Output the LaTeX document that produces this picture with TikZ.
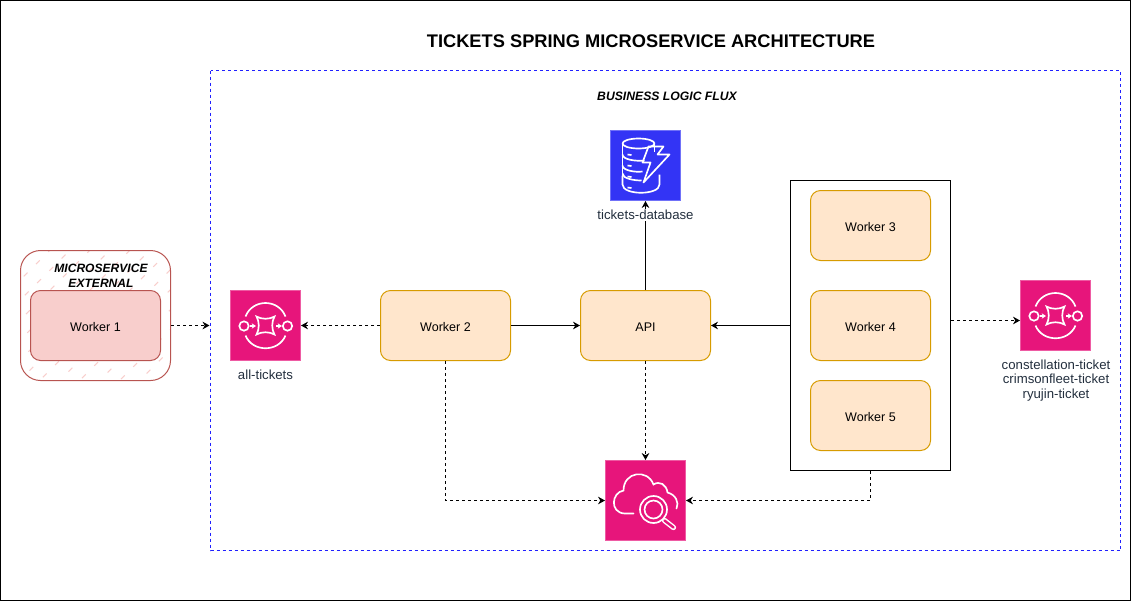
\documentclass[tikz,border=0pt]{standalone}
\usepackage{fontspec}
\setmainfont{Liberation Sans}
\usetikzlibrary{arrows.meta}
\definecolor{awsPink}{HTML}{E7157B}
\definecolor{awsBlue}{HTML}{3334F5}
\definecolor{frameBlue}{HTML}{2020FF}
\definecolor{redLine}{HTML}{B85450}
\definecolor{redFill}{HTML}{F8CECC}
\definecolor{orangeLine}{HTML}{D79B00}
\definecolor{orangeFill}{HTML}{FFE6CC}
\definecolor{labelGrey}{HTML}{232F3E}
\tikzset{
	worker/.style = {draw = orangeLine, fill = orangeFill, rounded corners = 7.5pt, inner sep = 0, font = \fontsize{9.4}{11}\selectfont, text height = 9pt, text depth = 0pt, minimum width = 97.5pt, minimum height = 52.5pt},
	icon/.style = {draw = awsPink!70!white, fill = awsPink, inner sep = 0, minimum size = 52.5pt},
	iconlabel/.style = {text = labelGrey, font = \fontsize{9.9}{10.8}\selectfont, align = center, inner sep = 1pt},
	flow/.style = {->, dash pattern = on 2.25pt off 2.25pt},
	sqs/.pic = {
		\draw [white, line width = 1.25pt]
			(-20, -9) .. controls (-13, -27) and (13, -27) .. (20, -9)
			(-20, 10) .. controls (-13, 27) and (13, 27) .. (20, 10)
			(-21.5, 0.5) circle (4.7) (22, 0.5) circle (4.7)
			(-9, -9) .. controls (-4, -6) and (4, -6) .. (9, -9) .. controls (6, -4) and (6, 4) .. (9, 9) .. controls (4, 6) and (-4, 6) .. (-9, 9) .. controls (-6, 4) and (-6, -4) .. cycle;
		\foreach \Q in {-15.5, 10.5}
			\draw [white, line width = 1.25pt, -{Stealth[length = 3.2pt, width = 4pt]}] (\Q, 0.5) -- ++ (6, 0);
	}
}
\begin{document}
\begin{tikzpicture}[> = {Stealth[length = 5.25pt, width = 5.75pt]}, x = 0.75pt, y = -0.75pt, line width = 0.75pt]

	% Page
	
	\useasboundingbox (0, 0) rectangle (1131, 601);
	\draw (0.5, 0.5) rectangle (1130.5, 600.5);
	
	% Title and frame
	
	\node (title) at (651, 41) {\fontsize{13.7}{16}\selectfont\bfseries TICKETS SPRING MICROSERVICE ARCHITECTURE};
	\draw [frameBlue, dash pattern = on 2.25pt off 2.25pt] (210.5, 70.5) rectangle (1120.5, 550.5);
	\node (flux) at (667, 96) {\fontsize{9.15}{11}\selectfont\bfseries\itshape BUSINESS LOGIC FLUX};
	
	% External microservice
	
	\begin{scope}
		\clip [rounded corners = 15pt] (20.5, 250.5) rectangle (170.5, 380.5);
		\foreach \Q in {-120, -100, ..., 160}
			\draw [redFill, line width = 0.8pt, dash pattern = on 4pt off 9pt, dash phase = {\Q * 0.35pt + 100pt}] (\Q, 380) -- ++ (130, -130);
	\end{scope}
	\node (external) [draw = redLine, rounded corners = 15pt, minimum width = 112.5pt, minimum height = 97.5pt, inner sep = 0] at (95.5, 315.5) {};
	\node (extlabel) [align = center, font = \fontsize{9.05}{11.2}\selectfont\bfseries\itshape] at (101, 276) {MICROSERVICE\\EXTERNAL};
	\node (worker1) [worker, draw = redLine, fill = redFill] at (95.5, 325.5) {Worker 1};
	
	% Queues, database and search
	
	\node (allTickets) [icon] at (265.5, 325.5) {};
	\pic at (allTickets) {sqs};
	\node (allLabel) [iconlabel] at (265.5, 375) {all-tickets};
	
	\node (ticketQueues) [icon] at (1055.5, 315.5) {};
	\pic at (ticketQueues) {sqs};
	\node (queueLabel) [iconlabel] at (1056, 380.5) {constellation-ticket\\crimsonfleet-ticket\\ryujin-ticket};
	
	\node (database) [icon, draw = awsBlue!70!white, fill = awsBlue] at (645.5, 165.5) {};
	\begin{scope}[shift = {(645.5, 165.5)}, white, line width = 1.25pt, line join = round]
		\draw (-7, -22) ellipse (16 and 5);
		\draw (-23, -22) -- (-23, 10);
		\draw (9, -22) -- (9, -14);
		\draw (-23, -11) .. controls (-23, -6) and (-10, -4) .. (-1, -5);
		\draw (-23, 0) .. controls (-23, 5) and (-10, 7) .. (-3, 6);
		\draw (-23, 8) .. controls (-23, 13) and (-12, 15) .. (-4, 15);
		\draw (-23, 10) -- (-23, 19) .. controls (-23, 30) and (14, 30) .. (14, 19) -- (14, 9);
		\draw (3, -19) -- (18, -19) -- (12, -11) -- (24, -11) -- (-2, 17) -- (5, -3) -- (-3, -3) -- cycle;
		\foreach \Q in {-10, 1, 12, 23}
			\draw (-18, \Q - 1) -- ++ (4, 0.5);
	\end{scope}
	
	\node (search) [icon, minimum size = 60pt] at (645.5, 500.5) {};
	\begin{scope}[shift = {(645.5, 500.5)}, white, line width = 1.25pt, line cap = round]
		\draw (-12, 13) -- (-21, 13) .. controls (-36, 12) and (-34, -8) .. (-22, -10) .. controls (-22, -29) and (2, -32) .. (8, -16) .. controls (14, -20) and (21, -16) .. (22, -8) .. controls (30, -6) and (34, 2) .. (31, 8);
		\draw (8, 9) circle (13.5) (8, 9) circle (9);
		\draw [line width = 4pt] (19, 20) -- (28, 27);
		\draw [awsPink, line width = 1.8pt] (19, 20) -- (28, 27);
	\end{scope}
	
	% Workers
	
	\node (worker2) [worker] at (445.5, 325.5) {Worker 2};
	\node (api) [worker] at (645.5, 325.5) {API};
	\node (workerBox) [draw, inner sep = 0, minimum width = 120pt, minimum height = 217.5pt] at (870.5, 325.5) {};
	\node (worker3) [worker, minimum width = 90pt] at (870.5, 225.5) {Worker 3};
	\node (worker4) [worker, minimum width = 90pt] at (870.5, 325.5) {Worker 4};
	\node (worker5) [worker, minimum width = 90pt] at (870.5, 415.5) {Worker 5};
	
	% Connectors
	
	\coordinate (frameEdge) at (209.5, 325.5);
	\draw [flow] (external.east |- worker1) -- (frameEdge);
	\draw [flow] (worker2) -- (allTickets);
	\draw [->] (worker2) -- (api);
	\draw [->] (workerBox) -- (api);
	\draw [flow] ([yshift = 3.75pt] workerBox.east) -- ([yshift = -3.75pt] ticketQueues.west);
	\draw [flow] (api) -- (search);
	\draw [flow] (worker2.south) |- (search.west);
	\draw [flow] (workerBox.south) |- (search.east);
	\draw [->] (api) -- (database);
	
	% Label sits on the API line
	
	\node (dbLabel) [iconlabel, fill = white] at (645.5, 215) {tickets-database};

\end{tikzpicture}
\end{document}
